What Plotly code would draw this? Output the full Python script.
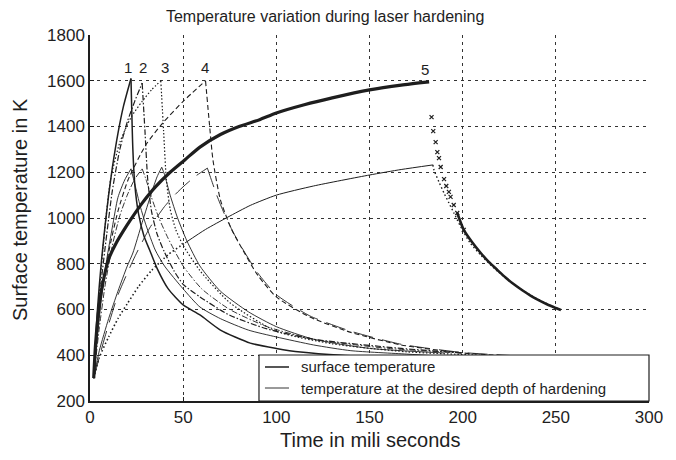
import plotly.graph_objects as go

# ---------------- data (time in ms, temperature in K) ----------------
# case 1 (solid)
s1_t = [2, 4, 6, 8, 10, 12, 15, 18, 22, 23, 24, 26, 29, 32, 36, 42, 50, 59, 70, 86, 100, 113, 135, 152, 180]
s1_T = [300, 600, 800, 960, 1100, 1220, 1370, 1490, 1610, 1300, 1150, 1020, 920, 860, 780, 690, 620, 576, 510, 453, 430, 414, 400, 395, 388]
d1_t = [2, 4, 6, 9, 12, 15, 18.6, 22, 24, 27, 30, 35, 40, 50, 59, 70, 85, 100, 120, 140, 170, 190]
d1_T = [300, 480, 640, 820, 960, 1090, 1166, 1215, 1150, 1050, 970, 860, 790, 690, 611, 560, 510, 480, 445, 420, 405, 395]
# case 2 (dash-dot)
s2_t = [2, 4, 6, 9, 12, 16, 20, 24, 28, 29.5, 31, 33, 36, 40, 45, 50, 59, 75, 95, 120, 167, 200]
s2_T = [300, 520, 720, 930, 1120, 1300, 1420, 1510, 1590, 1380, 1166, 1030, 930, 850, 770, 710, 655, 575, 515, 470, 430, 410]
d2_t = [2, 5, 8, 12, 16, 20, 24, 28, 30, 33, 37, 42, 50, 60, 75, 95, 120, 160, 200]
d2_T = [300, 520, 700, 880, 1010, 1100, 1170, 1215, 1170, 1090, 1000, 910, 790, 690, 600, 525, 470, 430, 410]
# case 3 (dotted surface, thin solid depth)
s3_t = [2, 4, 7, 11, 16, 22, 28, 33, 38, 39.5, 41, 43, 46, 50, 59, 75, 100, 130, 170, 210]
s3_T = [300, 560, 870, 1166, 1330, 1440, 1510, 1560, 1600, 1380, 1166, 1040, 950, 880, 770, 630, 505, 450, 415, 400]
d3_t = [2, 5, 10, 15, 20, 23, 28, 33, 36, 38.5, 40, 43, 47, 52, 59, 70, 85, 100, 120, 150, 190]
d3_T = [300, 420, 560, 680, 790, 847, 980, 1110, 1180, 1222, 1190, 1100, 1000, 900, 790, 680, 590, 525, 470, 430, 410]
# case 4 (dashed)
s4_t = [2, 5, 10, 15, 20.4, 30, 39, 50, 62, 64, 66, 70, 76, 82, 90, 100, 118, 140, 167, 200, 230]
s4_T = [300, 600, 850, 1030, 1166, 1320, 1415, 1510, 1600, 1420, 1253, 1079, 950, 860, 750, 655, 567, 500, 445, 410, 395]
d4_t = [2, 8, 15, 24, 32, 40, 46, 51, 57, 63, 65, 68, 72, 77, 83, 90, 100, 118, 140, 167, 200, 230]
d4_T = [300, 480, 663, 830, 956, 1050, 1105, 1144, 1185, 1218, 1170, 1100, 1020, 935, 850, 760, 665, 572, 505, 448, 412, 397]
# case 5 (crosses surface, dots depth)
s5_t = [2, 3, 5, 7, 10, 14, 18, 22, 28, 35, 43, 51, 59, 70, 80, 91, 100, 115, 130, 150, 167, 182]
s5_T = [300, 450, 620, 720, 820, 890, 945, 995, 1065, 1135, 1200, 1255, 1310, 1365, 1400, 1430, 1459, 1495, 1525, 1560, 1581, 1595]
s5c_t = [183.3, 184.2, 185.5, 186.4, 187.3, 188.2, 190, 191.2, 192.6, 193.5, 195.2, 197.1, 200.6, 205, 209.7, 214, 218.6, 223, 227.5, 232, 236.6, 241, 245.5, 249, 252.7]
s5c_T = [1441, 1380, 1332, 1288, 1262, 1223, 1170, 1140, 1114, 1092, 1057, 1022, 948, 895, 847, 808, 773, 740, 710, 684, 660, 640, 622, 610, 598]
d5_t = [2, 5, 10, 15, 20, 26, 33, 42, 51, 62, 74, 86, 100, 120, 150, 167, 184, 184.6, 187.3, 190, 192.6, 195.3, 199, 204, 209.7, 218.6, 227.5, 236.6, 245.5, 252.7]
d5_T = [300, 390, 480, 560, 625, 700, 770, 840, 891, 950, 1004, 1055, 1100, 1140, 1188, 1212, 1232, 1210, 1157, 1109, 1066, 1022, 961, 891, 838, 768, 710, 662, 624, 598]

case_labels = ["1", "2", "3", "4", "5"]
label_x = [20.4, 28.5, 40.3, 61.8, 180]
label_y = [1660, 1660, 1660, 1660, 1650]

legend_names = ["surface temperature", "temperature at the desired depth of hardening"]

x_ticks = [0, 50, 100, 150, 200, 250, 300]
y_ticks = [200, 400, 600, 800, 1000, 1200, 1400, 1600, 1800]

# ---------------- figure ----------------
INK = "#1e1e1e"
FONT = "Liberation Sans, Arial, Helvetica, sans-serif"
fig = go.Figure()


def split_at_peak(t, T):
    k = T.index(max(T))
    return (t[:k + 1], T[:k + 1]), (t[k:], T[k:])


def add_line(t, T, width, dash):
    fig.add_trace(go.Scatter(
        x=t, y=T, mode="lines",
        line=dict(color=INK, width=width, dash=dash, shape="spline", smoothing=0.6),
        showlegend=False, hoverinfo="skip"))


def add_curve(t, T, width, dash):
    for seg in split_at_peak(t, T):
        add_line(seg[0], seg[1], width, dash)


add_curve(s1_t, s1_T, 1.5, "solid")
add_curve(d1_t, d1_T, 0.9, "solid")
add_curve(s2_t, s2_T, 1.2, "6px,2px,1.5px,2px")
add_curve(d2_t, d2_T, 0.9, "6px,2px,1.5px,2px")
add_curve(s3_t, s3_T, 1.2, "1.5px,2px")
add_curve(d3_t, d3_T, 0.9, "solid")
add_curve(s4_t, s4_T, 1.1, "5px,3px")
add_curve(d4_t, d4_T, 0.9, "20px,9px")

# case 5
add_line(s5_t, s5_T, 3.2, "solid")
fig.add_trace(go.Scatter(x=s5c_t[:13], y=s5c_T[:13], mode="markers",
                         marker=dict(symbol="x-thin", size=4, line=dict(color=INK, width=1.2)),
                         showlegend=False, hoverinfo="skip"))
add_line(s5c_t[11:], s5c_T[11:], 2.6, "solid")
(d5h_t, d5h_T), (d5c_t, d5c_T) = split_at_peak(d5_t, d5_T)
add_line(d5h_t[:9], d5h_T[:9], 1.6, "1.5px,2.5px")
add_line(d5h_t[8:], d5h_T[8:], 1.0, "solid")
add_line(d5c_t, d5c_T, 1.4, "1.5px,2.5px")

for lab, lx, ly in zip(case_labels, label_x, label_y):
    fig.add_annotation(x=lx, y=ly, text=lab, showarrow=False,
                       font=dict(size=15, color=INK, family=FONT))

# axis titles
fig.add_annotation(xref="paper", yref="paper", x=-0.125, y=0.522, xanchor="center", yanchor="middle",
                   text="Surface temperature in K", textangle=-90, showarrow=False,
                   font=dict(size=20, color=INK, family=FONT))
fig.add_annotation(xref="paper", yref="paper", x=0.501, y=-0.107, xanchor="center", yanchor="middle",
                   text="Time in mili seconds", showarrow=False,
                   font=dict(size=20, color=INK, family=FONT))

# legend box (drawn like the original, spanning to the right edge)
fig.add_shape(type="rect", xref="paper", yref="paper", x0=0.3023, x1=1.0, y0=0.0, y1=0.1257,
              fillcolor="white", line=dict(color=INK, width=1.2), layer="above")
for yy, w, nm in zip([0.0929, 0.0355], [1.5, 0.9], legend_names):
    fig.add_shape(type="line", xref="paper", yref="paper", x0=0.313, x1=0.356, y0=yy, y1=yy,
                  line=dict(color=INK, width=w), layer="above")
    fig.add_annotation(xref="paper", yref="paper", x=0.3739, y=yy, xanchor="left", yanchor="middle",
                       text=nm, showarrow=False, font=dict(size=15, color=INK, family=FONT))

grid = dict(showgrid=True, gridcolor="#333333", gridwidth=1, griddash="3px,4px",
            zeroline=False, showline=True, linecolor=INK, linewidth=1.5,
            ticks="inside", ticklen=4, tickcolor=INK,
            tickfont=dict(size=17, color=INK, family=FONT))

fig.update_xaxes(range=[0, 300], tickvals=x_ticks, **grid)
fig.update_yaxes(range=[200, 1800], tickvals=y_ticks, **grid)

fig.update_layout(
    width=676, height=460,
    margin=dict(l=90, r=27, t=35, b=59),
    paper_bgcolor="white", plot_bgcolor="white",
    title=dict(text="Temperature variation during laser hardening", x=0.481, xanchor="center",
               y=0.965, yanchor="middle", font=dict(size=16, color=INK, family=FONT)),
    showlegend=False,
)

fig.write_html("out.html")
